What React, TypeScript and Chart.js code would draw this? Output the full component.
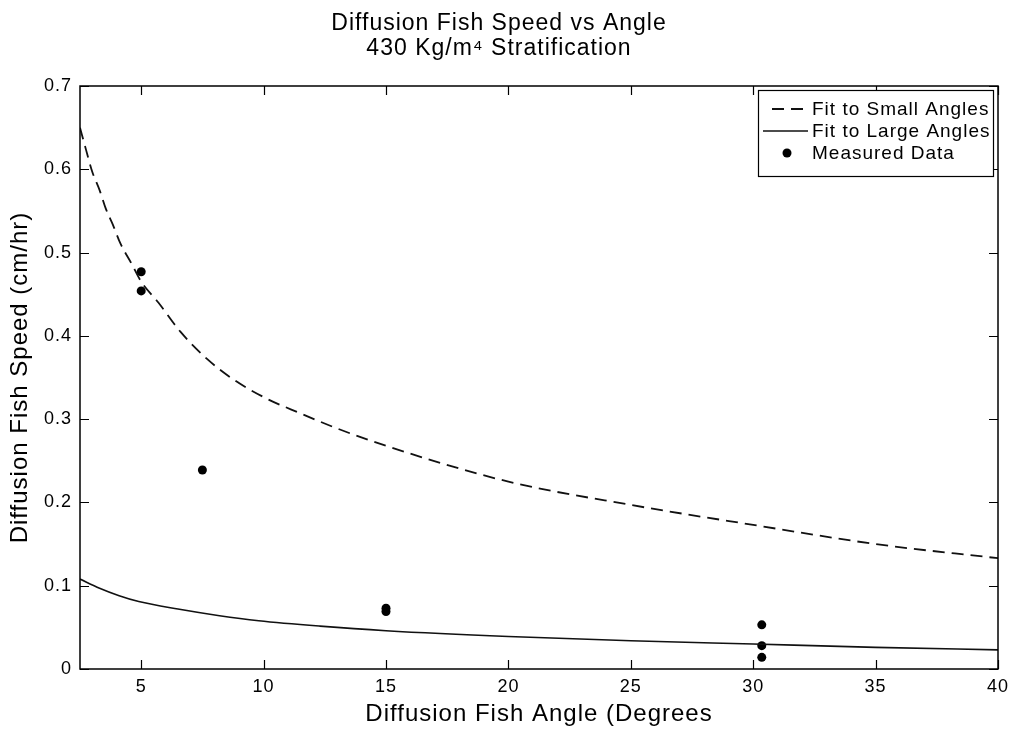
import React, { useEffect, useRef } from "react";
import { Chart, registerables } from "chart.js";

Chart.register(...registerables);

// ---- Data ----
const titleLines = ["Diffusion Fish Speed vs Angle", "430 Kg/m\u2074 Stratification"];
const xAxisTitle = "Diffusion Fish Angle (Degrees";
const yAxisTitle = "Diffusion Fish Speed (cm/hr)";

const xTicks = [5, 10, 15, 20, 25, 30, 35, 40];
const yTicks = [0, 0.1, 0.2, 0.3, 0.4, 0.5, 0.6, 0.7];

const smallFitX = [2.5, 2.75, 3, 3.3, 3.55, 3.85, 4.15, 4.6, 5, 5.7, 6.6, 7.7, 8.8, 10.1, 11.5, 12.9, 15, 20, 25, 30, 35, 40];
const smallFitY = [0.65, 0.623, 0.597, 0.575, 0.553, 0.533, 0.511, 0.487, 0.465, 0.44, 0.405, 0.372, 0.347, 0.325, 0.307, 0.29, 0.268, 0.225, 0.197, 0.173, 0.15, 0.133];

const largeFitX = [2.5, 3.3, 4.1, 4.9, 6.5, 8.2, 9.8, 12.3, 15, 20, 25, 30, 35, 40];
const largeFitY = [0.108, 0.097, 0.088, 0.081, 0.072, 0.064, 0.058, 0.0515, 0.046, 0.039, 0.034, 0.03, 0.026, 0.023];

const measuredX = [5, 5, 7.5, 15, 15, 30.35, 30.35, 30.35];
const measuredY = [0.477, 0.454, 0.239, 0.073, 0.069, 0.053, 0.028, 0.014];

const legendLabels = ["Fit to Small Angles", "Fit to Large Angles", "Measured Data"];

const FONT = "'Liberation Sans', Arial, Helvetica, sans-serif";

const spacingPlugin = {
  id: "spacing",
  beforeDraw(chart: any) {
    (chart.ctx as any).letterSpacing = "1px";
  },
  afterDraw(chart: any) {
    (chart.ctx as any).letterSpacing = "0px";
  },
};

const framePlugin = {
  id: "frame",
  afterDatasetsDraw(chart: any) {
    const { ctx, chartArea } = chart;
    const { left, right, top, bottom } = chartArea;
    const xs = chart.scales.x;
    const ys = chart.scales.y;
    const tl = 9;
    ctx.save();
    ctx.strokeStyle = "#000";
    ctx.lineWidth = 1.5;
    ctx.strokeRect(left, top, right - left, bottom - top);
    ctx.lineWidth = 1.2;
    ctx.beginPath();
    xTicks.forEach((v) => {
      const px = Math.round(xs.getPixelForValue(v)) + 0.5;
      ctx.moveTo(px, bottom);
      ctx.lineTo(px, bottom - tl);
      ctx.moveTo(px, top);
      ctx.lineTo(px, top + tl);
    });
    yTicks.forEach((v) => {
      const py = Math.round(ys.getPixelForValue(v)) + 0.5;
      ctx.moveTo(left, py);
      ctx.lineTo(left + tl, py);
      ctx.moveTo(right, py);
      ctx.lineTo(right - tl, py);
    });
    ctx.stroke();

    // Legend
    const bw = 235;
    const bh = 86;
    const bx = right - 5 - bw;
    const by = top + 4;
    ctx.fillStyle = "#fff";
    ctx.fillRect(bx, by, bw, bh);
    ctx.lineWidth = 1.2;
    ctx.strokeStyle = "#000";
    ctx.strokeRect(bx + 0.5, by + 0.5, bw, bh);
    ctx.font = `19px ${FONT}`;
    ctx.textBaseline = "middle";
    ctx.textAlign = "left";
    chart.data.datasets.forEach((ds: any, i: number) => {
      const cy = by + 19 + i * 22;
      const tx = bx + 54;
      if (ds.showLine) {
        ctx.save();
        ctx.strokeStyle = ds.borderColor;
        ctx.lineWidth = ds.borderWidth;
        ctx.setLineDash(ds.borderDash || []);
        ctx.beginPath();
        ctx.moveTo(bx + (ds.borderDash ? 14 : 5), cy);
        ctx.lineTo(bx + 50, cy);
        ctx.stroke();
        ctx.restore();
      } else {
        ctx.fillStyle = ds.pointBackgroundColor;
        ctx.beginPath();
        ctx.arc(bx + 29, cy, ds.pointRadius, 0, Math.PI * 2);
        ctx.fill();
      }
      ctx.fillStyle = "#000";
      ctx.fillText(legendLabels[i], tx, cy + 1);
    });
    ctx.restore();
  },
};

export default function App() {
  const canvasRef = useRef<HTMLCanvasElement | null>(null);

  useEffect(() => {
    if (!canvasRef.current) return;
    Chart.defaults.font.family = FONT;
    Chart.defaults.color = "#000";
    const chart = new Chart(canvasRef.current, {
      type: "scatter",
      data: {
        datasets: [
          {
            label: legendLabels[0],
            data: smallFitX.map((x, i) => ({ x, y: smallFitY[i] })),
            showLine: true,
            borderColor: "#111",
            borderWidth: 1.8,
            borderDash: [12, 7],
            pointRadius: 0,
            cubicInterpolationMode: "monotone",
            fill: false,
          },
          {
            label: legendLabels[1],
            data: largeFitX.map((x, i) => ({ x, y: largeFitY[i] })),
            showLine: true,
            borderColor: "#111",
            borderWidth: 1.6,
            pointRadius: 0,
            cubicInterpolationMode: "monotone",
            fill: false,
          },
          {
            label: legendLabels[2],
            data: measuredX.map((x, i) => ({ x, y: measuredY[i] })),
            showLine: false,
            pointRadius: 4.5,
            pointBackgroundColor: "#000",
            pointBorderColor: "#000",
            pointBorderWidth: 0,
          },
        ],
      } as any,
      options: {
        responsive: false,
        animation: false,
        devicePixelRatio: 1,
        layout: { padding: { left: 0, right: 18, top: 0, bottom: 0 } },
        plugins: {
          legend: { display: false },
          tooltip: { enabled: false },
          title: {
            display: true,
            text: titleLines,
            color: "#000",
            font: { size: 23, weight: "normal", lineHeight: 25 / 23 },
            padding: { top: 11, bottom: 25 },
          },
        },
        scales: {
          x: {
            type: "linear",
            min: 2.5,
            max: 40,
            afterBuildTicks: (axis: any) => {
              axis.ticks = xTicks.map((v) => ({ value: v }));
            },
            afterFit: (axis: any) => {
              axis.height = 62;
            },
            grid: { display: false, drawTicks: false },
            border: { display: false },
            ticks: {
              padding: 7,
              color: "#000",
              font: { size: 18 },
              callback: (v: any) => String(v),
            },
            title: {
              display: true,
              text: xAxisTitle,
              color: "#000",
              font: { size: 24 },
              padding: { top: 0, bottom: 2 },
            },
          },
          y: {
            type: "linear",
            min: 0,
            max: 0.7,
            afterBuildTicks: (axis: any) => {
              axis.ticks = yTicks.map((v) => ({ value: v }));
            },
            afterFit: (axis: any) => {
              axis.width = 80;
            },
            grid: { display: false, drawTicks: false },
            border: { display: false },
            ticks: {
              padding: 8,
              color: "#000",
              font: { size: 18 },
              callback: (v: any) => String(v),
            },
            title: {
              display: true,
              text: yAxisTitle,
              color: "#000",
              font: { size: 24 },
              padding: { top: 6, bottom: 0 },
            },
          },
        },
      } as any,
      plugins: [spacingPlugin, framePlugin],
    });
    return () => chart.destroy();
  }, []);

  return (
    <div style={{ position: "absolute", left: 0, top: 0, width: 1016, height: 731, background: "#fff" }}>
      <canvas ref={canvasRef} width={1016} height={731} style={{ display: "block", width: 1016, height: 731 }} />
    </div>
  );
}
